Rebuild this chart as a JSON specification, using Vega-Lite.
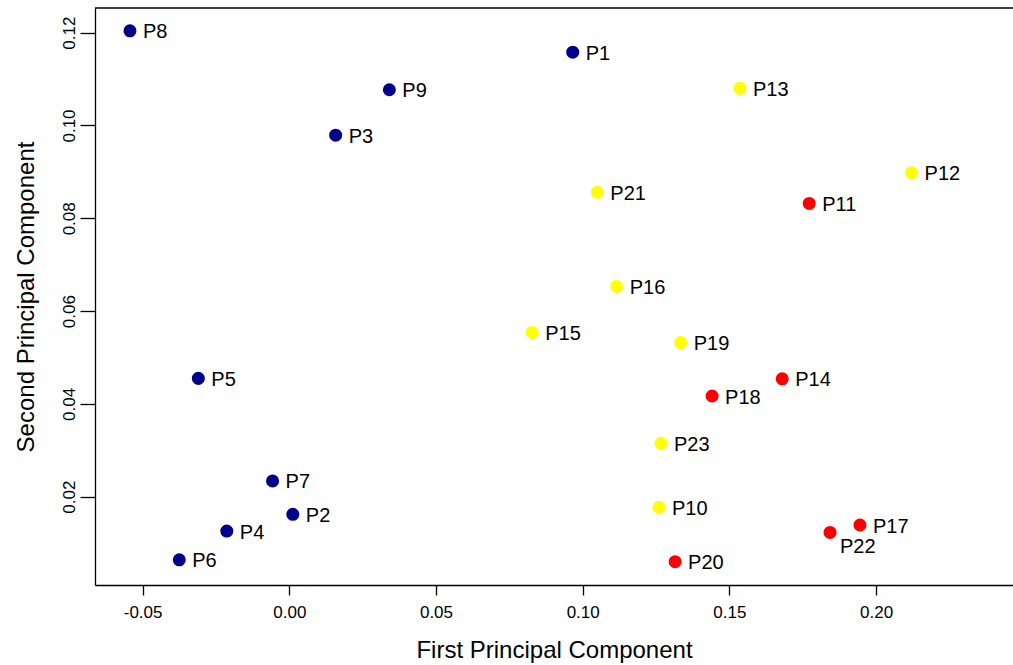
{
  "$schema": "https://vega.github.io/schema/vega-lite/v6.json",
  "width": 918,
  "height": 577,
  "autosize": "none",
  "padding": {"left": 95, "top": 8, "right": 0, "bottom": 80},
  "background": "white",
  "config": {
    "font": "Liberation Sans",
    "view": {"stroke": null},
    "axis": {
      "grid": false,
      "domainColor": "black",
      "domainWidth": 1.3,
      "tickColor": "black",
      "tickWidth": 1.3,
      "labelColor": "black",
      "titleColor": "black",
      "labelFontSize": 17,
      "titleFontSize": 24,
      "titleFontWeight": "normal",
      "labelFont": "Liberation Sans",
      "titleFont": "Liberation Sans"
    }
  },
  "data": {
    "values": [
      {"id": "P1", "pc1": 0.0966, "pc2": 0.1158, "cluster": "1"},
      {"id": "P2", "pc1": 0.0012, "pc2": 0.0162, "cluster": "1"},
      {"id": "P3", "pc1": 0.0158, "pc2": 0.0979, "cluster": "1"},
      {"id": "P4", "pc1": -0.0213, "pc2": 0.0126, "cluster": "1"},
      {"id": "P5", "pc1": -0.0310, "pc2": 0.0455, "cluster": "1"},
      {"id": "P6", "pc1": -0.0375, "pc2": 0.0064, "cluster": "1"},
      {"id": "P7", "pc1": -0.0057, "pc2": 0.0234, "cluster": "1"},
      {"id": "P8", "pc1": -0.0543, "pc2": 0.1204, "cluster": "1"},
      {"id": "P9", "pc1": 0.0341, "pc2": 0.1077, "cluster": "1"},
      {"id": "P10", "pc1": 0.1260, "pc2": 0.0177, "cluster": "2"},
      {"id": "P11", "pc1": 0.1772, "pc2": 0.0832, "cluster": "3"},
      {"id": "P12", "pc1": 0.2121, "pc2": 0.0898, "cluster": "2"},
      {"id": "P13", "pc1": 0.1536, "pc2": 0.1080, "cluster": "2"},
      {"id": "P14", "pc1": 0.1680, "pc2": 0.0454, "cluster": "3"},
      {"id": "P15", "pc1": 0.0828, "pc2": 0.0554, "cluster": "2"},
      {"id": "P16", "pc1": 0.1116, "pc2": 0.0653, "cluster": "2"},
      {"id": "P17", "pc1": 0.1945, "pc2": 0.0139, "cluster": "3"},
      {"id": "P18", "pc1": 0.1441, "pc2": 0.0417, "cluster": "3"},
      {"id": "P19", "pc1": 0.1334, "pc2": 0.0532, "cluster": "2"},
      {"id": "P20", "pc1": 0.1315, "pc2": 0.0060, "cluster": "3"},
      {"id": "P21", "pc1": 0.1050, "pc2": 0.0856, "cluster": "2"},
      {"id": "P22", "pc1": 0.1843, "pc2": 0.0123, "cluster": "3"},
      {"id": "P23", "pc1": 0.1267, "pc2": 0.0315, "cluster": "2"}
    ]
  },
  "encoding": {
    "x": {
      "field": "pc1", "type": "quantitative",
      "scale": {"domain": [-0.06622, 0.24666], "nice": false, "zero": false},
      "axis": {
        "orient": "bottom",
        "values": [-0.05, 0, 0.05, 0.1, 0.15, 0.2],
        "labelExpr": "replace(format(datum.value, '.2f'), '\u2212', '-')",
        "tickSize": 10,
        "labelPadding": 9,
        "labelFlush": false,
        "labelOverlap": false,
        "title": "First Principal Component",
        "titleBaseline": "alphabetic",
        "titleY": 72
      }
    },
    "y": {
      "field": "pc2", "type": "quantitative",
      "scale": {"domain": [0.00097, 0.12532], "nice": false, "zero": false},
      "axis": {
        "orient": "left",
        "values": [0.02, 0.04, 0.06, 0.08, 0.1, 0.12],
        "format": ".2f",
        "labelAngle": 270,
        "labelAlign": "center",
        "labelBaseline": "alphabetic",
        "tickSize": 15,
        "labelPadding": 6,
        "labelFlush": false,
        "labelOverlap": false,
        "title": "Second Principal Component",
        "titleAngle": 270,
        "titleBaseline": "alphabetic",
        "titleX": -62
      }
    }
  },
  "layer": [
    {
      "mark": {"type": "point", "filled": true, "shape": "circle", "size": 170, "opacity": 1},
      "encoding": {
        "color": {
          "field": "cluster", "type": "nominal",
          "scale": {"domain": ["1", "2", "3"], "range": ["#00008B", "#FFFF00", "#FF0000"]},
          "legend": null
        }
      }
    },
    {
      "transform": [{"filter": "datum.id !== 'P22'"}],
      "mark": {"type": "text", "align": "left", "baseline": "middle", "dx": 13, "dy": 1.5, "fontSize": 20, "color": "black", "font": "Liberation Sans"},
      "encoding": {
        "text": {"field": "id"}
      }
    },
    {
      "transform": [{"filter": "datum.id === 'P22'"}],
      "mark": {"type": "text", "align": "left", "baseline": "middle", "dx": 10, "dy": 14.5, "fontSize": 20, "color": "black", "font": "Liberation Sans"},
      "encoding": {
        "text": {"field": "id"}
      }
    },
    {
      "data": {"values": [{"top": 0.12532}]},
      "mark": {"type": "rule", "color": "black", "strokeWidth": 1.3},
      "encoding": {
        "x": null,
        "y": {"field": "top", "type": "quantitative"}
      }
    }
  ]
}
